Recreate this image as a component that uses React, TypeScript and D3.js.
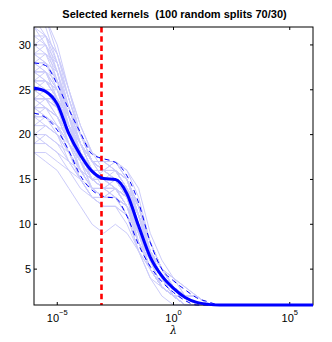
import React, { useEffect, useRef } from 'react';
import * as d3 from 'd3';

// lambda grid, as powers of ten
const exponents = [-6, -5.5, -5, -4.5, -4, -3.5, -3, -2.5, -2, -1.5, -1, -0.5, 0, 0.5, 1, 1.5, 2, 2.5, 3, 3.5, 4, 4.5, 5, 5.5, 6];

const meanKernels = [25.2, 24.8, 23.4, 20.1, 17.7, 15.9, 15.1, 15.0, 13.4, 9.8, 6.35, 4.24, 2.85, 1.84, 1.29, 1.07, 1, 1, 1, 1, 1, 1, 1, 1, 1];
const upperKernels = [28.0, 27.7, 25.6, 22.8, 20.2, 17.8, 17.3, 16.9, 15.4, 12.4, 8.0, 5.0, 3.7, 2.7, 1.8, 1.35, 1, 1, 1, 1, 1, 1, 1, 1, 1];
const lowerKernels = [22.4, 21.9, 20.5, 18.2, 15.4, 13.8, 13.1, 12.9, 10.9, 7.7, 5.3, 3.6, 2.4, 1.5, 1, 1, 1, 1, 1, 1, 1, 1, 1, 1, 1];

// individual splits (subset of the 100 runs)
const splitRuns = [
  [25, 25, 24, 21, 18, 16, 15, 15, 13, 10, 6, 4, 2, 1, 1, 1, 1, 1, 1, 1, 1, 1, 1, 1, 1],
  [28, 28, 26, 22, 19, 17, 16, 16, 15, 12, 8, 5, 3, 2, 1, 1, 1, 1, 1, 1, 1, 1, 1, 1, 1],
  [23, 22, 21, 19, 17, 15, 14, 14, 12, 8, 5, 3, 2, 1, 1, 1, 1, 1, 1, 1, 1, 1, 1, 1, 1],
  [30, 30, 28, 24, 20, 17, 17, 17, 16, 13, 8, 5, 4, 3, 2, 1, 1, 1, 1, 1, 1, 1, 1, 1, 1],
  [22, 22, 20, 17, 15, 13, 13, 13, 11, 7, 5, 3, 2, 1, 1, 1, 1, 1, 1, 1, 1, 1, 1, 1, 1],
  [26, 25, 24, 21, 18, 16, 15, 15, 14, 11, 7, 4, 3, 2, 1, 1, 1, 1, 1, 1, 1, 1, 1, 1, 1],
  [27, 27, 25, 22, 19, 17, 16, 15, 13, 9, 6, 4, 2, 2, 1, 1, 1, 1, 1, 1, 1, 1, 1, 1, 1],
  [24, 24, 23, 20, 17, 15, 15, 15, 13, 10, 6, 4, 3, 2, 1, 1, 1, 1, 1, 1, 1, 1, 1, 1, 1],
  [33, 32, 28, 23, 19, 16, 15, 15, 14, 10, 6, 4, 3, 2, 2, 1, 1, 1, 1, 1, 1, 1, 1, 1, 1],
  [19, 19, 18, 16, 14, 13, 12, 12, 11, 9, 5, 3, 2, 1, 1, 1, 1, 1, 1, 1, 1, 1, 1, 1, 1],
  [26, 26, 25, 22, 19, 17, 16, 16, 14, 10, 7, 5, 3, 2, 1, 1, 1, 1, 1, 1, 1, 1, 1, 1, 1],
  [25, 24, 22, 19, 17, 16, 16, 15, 13, 9, 6, 4, 2, 1, 1, 1, 1, 1, 1, 1, 1, 1, 1, 1, 1],
  [29, 29, 27, 23, 20, 18, 17, 17, 15, 11, 7, 5, 3, 2, 2, 1, 1, 1, 1, 1, 1, 1, 1, 1, 1],
  [21, 21, 20, 18, 16, 14, 13, 13, 12, 9, 6, 4, 3, 2, 1, 1, 1, 1, 1, 1, 1, 1, 1, 1, 1],
  [27, 26, 24, 20, 17, 15, 15, 15, 13, 10, 6, 4, 2, 1, 1, 1, 1, 1, 1, 1, 1, 1, 1, 1, 1],
  [24, 24, 24, 21, 18, 15, 14, 14, 13, 10, 7, 5, 3, 2, 1, 1, 1, 1, 1, 1, 1, 1, 1, 1, 1],
  [31, 30, 27, 22, 18, 16, 15, 15, 14, 11, 7, 4, 3, 2, 1, 1, 1, 1, 1, 1, 1, 1, 1, 1, 1],
  [23, 23, 22, 20, 18, 16, 15, 14, 12, 8, 5, 3, 2, 1, 1, 1, 1, 1, 1, 1, 1, 1, 1, 1, 1],
  [26, 26, 24, 21, 17, 15, 15, 15, 14, 11, 7, 4, 3, 2, 2, 1, 1, 1, 1, 1, 1, 1, 1, 1, 1],
  [25, 25, 23, 19, 16, 14, 14, 14, 13, 10, 6, 4, 2, 1, 1, 1, 1, 1, 1, 1, 1, 1, 1, 1, 1],
  [28, 27, 25, 21, 18, 16, 16, 16, 15, 11, 6, 4, 3, 2, 1, 1, 1, 1, 1, 1, 1, 1, 1, 1, 1],
  [22, 21, 20, 18, 16, 15, 14, 14, 12, 8, 5, 3, 2, 1, 1, 1, 1, 1, 1, 1, 1, 1, 1, 1, 1],
  [24, 23, 22, 20, 18, 16, 16, 15, 13, 9, 6, 4, 3, 2, 1, 1, 1, 1, 1, 1, 1, 1, 1, 1, 1],
  [30, 29, 26, 22, 19, 17, 16, 16, 15, 12, 8, 5, 3, 2, 1, 1, 1, 1, 1, 1, 1, 1, 1, 1, 1],
  [20, 20, 19, 17, 15, 14, 13, 13, 12, 10, 7, 4, 3, 2, 1, 1, 1, 1, 1, 1, 1, 1, 1, 1, 1],
  [26, 26, 24, 20, 17, 15, 14, 14, 12, 8, 5, 3, 2, 1, 1, 1, 1, 1, 1, 1, 1, 1, 1, 1, 1],
  [27, 27, 26, 23, 20, 17, 16, 16, 15, 12, 8, 5, 4, 3, 2, 1, 1, 1, 1, 1, 1, 1, 1, 1, 1],
  [23, 22, 21, 18, 16, 14, 14, 14, 13, 10, 6, 4, 2, 1, 1, 1, 1, 1, 1, 1, 1, 1, 1, 1, 1],
  [25, 25, 24, 22, 19, 16, 15, 15, 13, 9, 5, 3, 2, 1, 1, 1, 1, 1, 1, 1, 1, 1, 1, 1, 1],
  [32, 31, 28, 24, 20, 17, 16, 15, 14, 10, 6, 4, 2, 2, 1, 1, 1, 1, 1, 1, 1, 1, 1, 1, 1],
  [24, 24, 22, 19, 16, 15, 15, 15, 14, 11, 7, 4, 3, 2, 1, 1, 1, 1, 1, 1, 1, 1, 1, 1, 1],
  [18, 18, 17, 16, 15, 13, 12, 12, 10, 7, 4, 3, 2, 1, 1, 1, 1, 1, 1, 1, 1, 1, 1, 1, 1],
  [26, 25, 23, 20, 18, 16, 15, 15, 13, 10, 6, 4, 3, 2, 1, 1, 1, 1, 1, 1, 1, 1, 1, 1, 1],
  [28, 28, 27, 23, 19, 16, 16, 16, 14, 10, 6, 4, 2, 1, 1, 1, 1, 1, 1, 1, 1, 1, 1, 1, 1],
  [25, 24, 23, 21, 18, 16, 15, 14, 12, 9, 6, 4, 3, 2, 1, 1, 1, 1, 1, 1, 1, 1, 1, 1, 1],
  [22, 22, 21, 19, 17, 15, 15, 15, 14, 11, 7, 5, 3, 2, 1, 1, 1, 1, 1, 1, 1, 1, 1, 1, 1],
  [29, 28, 25, 21, 18, 16, 15, 15, 13, 9, 6, 3, 2, 1, 1, 1, 1, 1, 1, 1, 1, 1, 1, 1, 1],
  [24, 24, 23, 20, 17, 15, 14, 14, 13, 10, 6, 4, 3, 2, 1, 1, 1, 1, 1, 1, 1, 1, 1, 1, 1],
  [27, 26, 25, 22, 19, 17, 16, 16, 15, 11, 7, 4, 3, 2, 1, 1, 1, 1, 1, 1, 1, 1, 1, 1, 1],
  [23, 23, 22, 19, 16, 14, 14, 14, 12, 9, 6, 4, 2, 1, 1, 1, 1, 1, 1, 1, 1, 1, 1, 1, 1],
  [18, 17, 16, 14, 12, 10, 9, 10, 9, 7, 5, 3, 2, 1, 1, 1, 1, 1, 1, 1, 1, 1, 1, 1, 1],
  [34, 33, 30, 25, 20, 17, 16, 16, 14, 11, 7, 5, 3, 2, 1, 1, 1, 1, 1, 1, 1, 1, 1, 1, 1],
  [31, 31, 29, 25, 21, 18, 17, 17, 16, 14, 9, 6, 4, 2, 1, 1, 1, 1, 1, 1, 1, 1, 1, 1, 1],
  [27, 28, 26, 23, 19, 16, 16, 17, 15, 11, 6, 3, 2, 1, 1, 1, 1, 1, 1, 1, 1, 1, 1, 1, 1],
  [20, 21, 20, 19, 17, 16, 15, 16, 15, 12, 8, 5, 3, 2, 1, 1, 1, 1, 1, 1, 1, 1, 1, 1, 1],
  [29, 30, 27, 22, 17, 14, 13, 13, 11, 7, 4, 2, 1, 1, 1, 1, 1, 1, 1, 1, 1, 1, 1, 1, 1],
  [33, 31, 27, 22, 18, 15, 14, 15, 14, 12, 8, 5, 3, 2, 1, 1, 1, 1, 1, 1, 1, 1, 1, 1, 1],
  [24, 25, 23, 21, 19, 17, 17, 16, 14, 10, 6, 3, 2, 1, 1, 1, 1, 1, 1, 1, 1, 1, 1, 1, 1],
  [22, 23, 22, 20, 17, 14, 13, 14, 13, 10, 7, 5, 3, 2, 2, 1, 1, 1, 1, 1, 1, 1, 1, 1, 1],
  [26, 27, 25, 21, 17, 15, 16, 16, 14, 9, 5, 3, 2, 1, 1, 1, 1, 1, 1, 1, 1, 1, 1, 1, 1],
  [28, 29, 28, 24, 20, 18, 17, 16, 14, 10, 7, 4, 3, 2, 1, 1, 1, 1, 1, 1, 1, 1, 1, 1, 1],
  [19, 20, 19, 18, 16, 15, 14, 13, 11, 8, 5, 3, 2, 1, 1, 1, 1, 1, 1, 1, 1, 1, 1, 1, 1],
  [30, 31, 29, 25, 21, 18, 16, 15, 13, 9, 6, 4, 2, 1, 1, 1, 1, 1, 1, 1, 1, 1, 1, 1, 1],
  [25, 26, 25, 22, 18, 15, 14, 13, 12, 10, 7, 5, 4, 2, 1, 1, 1, 1, 1, 1, 1, 1, 1, 1, 1],
  [23, 24, 24, 22, 19, 16, 15, 15, 14, 12, 8, 5, 3, 2, 1, 1, 1, 1, 1, 1, 1, 1, 1, 1, 1],
  [32, 30, 26, 21, 18, 16, 16, 17, 15, 11, 7, 4, 2, 1, 1, 1, 1, 1, 1, 1, 1, 1, 1, 1, 1],
  [21, 22, 21, 18, 15, 13, 12, 12, 11, 8, 6, 4, 3, 2, 1, 1, 1, 1, 1, 1, 1, 1, 1, 1, 1],
  [27, 27, 24, 20, 16, 14, 14, 15, 14, 11, 8, 5, 3, 2, 1, 1, 1, 1, 1, 1, 1, 1, 1, 1, 1],
  [26, 26, 24, 22, 20, 18, 17, 16, 15, 12, 7, 4, 2, 1, 1, 1, 1, 1, 1, 1, 1, 1, 1, 1, 1],
  [24, 23, 21, 18, 15, 13, 13, 14, 13, 11, 7, 4, 2, 1, 1, 1, 1, 1, 1, 1, 1, 1, 1, 1, 1],
  [35, 33, 29, 24, 20, 17, 15, 14, 13, 10, 6, 4, 3, 2, 1, 1, 1, 1, 1, 1, 1, 1, 1, 1, 1],
  [29, 28, 26, 23, 20, 17, 15, 14, 12, 9, 6, 4, 2, 1, 1, 1, 1, 1, 1, 1, 1, 1, 1, 1, 1],
  [22, 22, 21, 20, 18, 16, 14, 13, 12, 9, 5, 3, 2, 2, 1, 1, 1, 1, 1, 1, 1, 1, 1, 1, 1],
  [25, 25, 25, 23, 20, 17, 16, 16, 15, 12, 7, 4, 3, 2, 1, 1, 1, 1, 1, 1, 1, 1, 1, 1, 1],
  [28, 27, 24, 21, 19, 17, 16, 15, 13, 8, 5, 3, 2, 1, 1, 1, 1, 1, 1, 1, 1, 1, 1, 1, 1],
  [20, 19, 18, 17, 16, 15, 15, 14, 13, 10, 6, 4, 3, 2, 1, 1, 1, 1, 1, 1, 1, 1, 1, 1, 1],
];

const selectedLambda = 8e-4;
const yTicks = [5, 10, 15, 20, 25, 30];
const xTickExps = [-5, 0, 5];
const title = 'Selected kernels  (100 random splits 70/30)';

const W = 332;
const H = 342;
const margin = { top: 27, right: 19, bottom: 37, left: 34 };

const App = () => {
  const svgRef = useRef<SVGSVGElement>(null);

  useEffect(() => {
    const svg = d3.select(svgRef.current);
    svg.selectAll('*').remove();

    const x0 = margin.left, x1 = W - margin.right;
    const y0 = margin.top, y1 = H - margin.bottom;

    const x = d3.scaleLog().domain([1e-6, 1e6]).range([x0, x1]);
    const y = d3.scaleLinear().domain([1, 32]).range([y1, y0]);
    const lambdas = exponents.map(e => Math.pow(10, e));

    svg.append('defs').append('clipPath').attr('id', 'plotclip')
      .append('rect').attr('x', x0).attr('y', y0).attr('width', x1 - x0).attr('height', y1 - y0 + 2);

    const plot = svg.append('g').attr('clip-path', 'url(#plotclip)');

    const line = d3.line<number>()
      .x((_, i) => x(lambdas[i]))
      .y(d => y(d));
    const smooth = d3.line<number>()
      .x((_, i) => x(lambdas[i]))
      .y(d => y(d))
      .curve(d3.curveMonotoneX);

    plot.selectAll('.run')
      .data(splitRuns)
      .join('path')
      .attr('class', 'run')
      .attr('d', d => line(d))
      .attr('fill', 'none')
      .attr('stroke', '#ccccfa')
      .attr('stroke-width', 1);

    plot.selectAll('.band')
      .data([upperKernels, lowerKernels])
      .join('path')
      .attr('class', 'band')
      .attr('d', d => smooth(d))
      .attr('fill', 'none')
      .attr('stroke', '#0000ff')
      .attr('stroke-width', 1)
      .attr('stroke-dasharray', '5,4');

    plot.append('line')
      .attr('x1', x(selectedLambda)).attr('x2', x(selectedLambda))
      .attr('y1', y0).attr('y2', y1)
      .attr('stroke', '#ff0000')
      .attr('stroke-width', 2.6)
      .attr('stroke-dasharray', '5.5,3.7');

    // box + inward ticks
    const axes = svg.append('g').attr('stroke', '#000').attr('stroke-width', 1);
    axes.append('rect').attr('x', x0).attr('y', y0).attr('width', x1 - x0).attr('height', y1 - y0).attr('fill', 'none');
    yTicks.forEach(t => {
      axes.append('line').attr('x1', x0).attr('x2', x0 + 3).attr('y1', y(t)).attr('y2', y(t));
      axes.append('line').attr('x1', x1).attr('x2', x1 - 3).attr('y1', y(t)).attr('y2', y(t));
    });
    xTickExps.forEach(e => {
      const px = x(Math.pow(10, e));
      axes.append('line').attr('x1', px).attr('x2', px).attr('y1', y1).attr('y2', y1 - 3);
      axes.append('line').attr('x1', px).attr('x2', px).attr('y1', y0).attr('y2', y0 + 3);
    });

    // mean curve, drawn over the axis so its flat tail shows at the bottom
    svg.append('path')
      .attr('clip-path', 'url(#plotclip)')
      .attr('d', smooth(meanKernels))
      .attr('fill', 'none')
      .attr('stroke', '#0000ff')
      .attr('stroke-width', 3);

    const font = 'Liberation Sans, Arial, Helvetica, sans-serif';

    svg.selectAll('.ylab')
      .data(yTicks)
      .join('text')
      .attr('class', 'ylab')
      .attr('x', x0 - 3)
      .attr('y', d => y(d))
      .attr('dy', '0.35em')
      .attr('text-anchor', 'end')
      .attr('font-family', font)
      .attr('font-size', 11)
      .attr('fill', '#000')
      .text(d => d);

    xTickExps.forEach(e => {
      const t = svg.append('text')
        .attr('x', x(Math.pow(10, e)))
        .attr('y', y1 + 16.5)
        .attr('text-anchor', 'middle')
        .attr('font-family', font)
        .attr('font-size', 11)
        .attr('fill', '#000');
      t.append('tspan').text('10');
      t.append('tspan')
        .attr('dy', -6.5)
        .attr('font-size', 7.5)
        .text(e < 0 ? `\u2212${-e}` : `${e}`);
    });

    svg.append('text')
      .attr('x', (x0 + x1) / 2)
      .attr('y', y1 + 29)
      .attr('text-anchor', 'middle')
      .attr('font-family', 'DejaVu Serif, serif')
      .attr('font-style', 'italic')
      .attr('font-size', 11)
      .text('\u03bb');

    svg.append('text')
      .attr('x', (x0 + x1) / 2 + 1)
      .attr('y', 18)
      .attr('text-anchor', 'middle')
      .attr('font-family', font)
      .attr('font-weight', 'bold')
      .attr('font-size', 11)
      .style('white-space', 'pre')
      .text(title);
  }, []);

  return (
    <svg
      ref={svgRef}
      width={W}
      height={H}
      style={{ position: 'fixed', left: 0, top: 0, background: '#fff' }}
    />
  );
};

export default App;
